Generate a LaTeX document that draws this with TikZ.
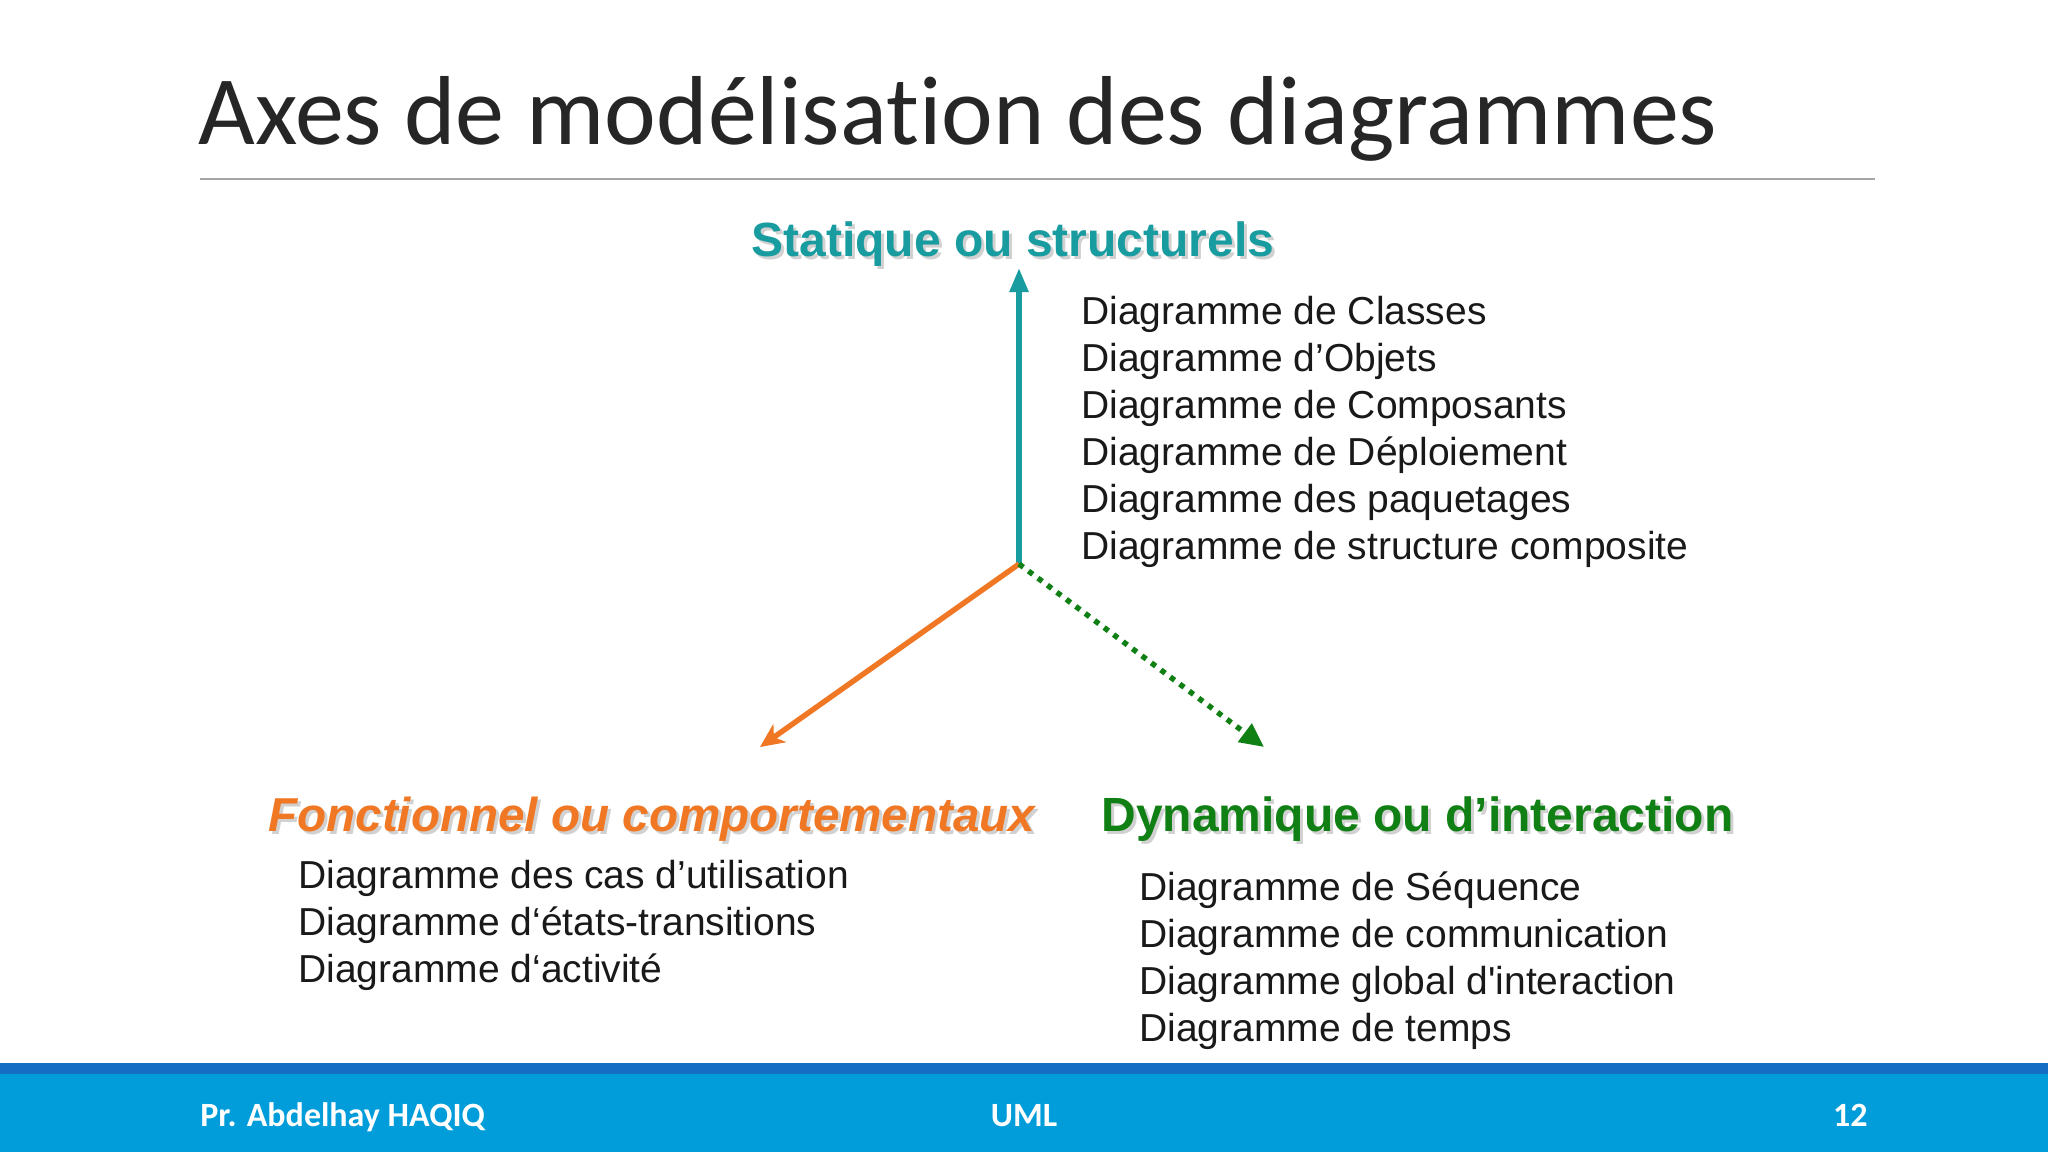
\documentclass[tikz,border=0pt]{standalone}
\usepackage{fontspec}
\setmainfont{Liberation Sans}
\newfontfamily\titlefont[Ligatures=NoCommon]{Carlito}
\usetikzlibrary{arrows.meta}
\definecolor{tealc}{RGB}{24,156,160}
\definecolor{orangec}{RGB}{240,120,36}
\definecolor{greenc}{RGB}{16,128,20}
\definecolor{footdark}{RGB}{22,110,196}
\definecolor{footlight}{RGB}{0,157,218}
\definecolor{rulegray}{RGB}{166,166,166}
\tikzset{
  listtxt/.style={anchor=base west, inner sep=0pt, font=\fontsize{19.5}{23}\selectfont, text=black!90},
  headtxt/.style={inner sep=0pt, font=\fontsize{24}{28}\selectfont\bfseries},
  shadowtxt/.style={headtxt, text=black!18},
  foottxt/.style={inner sep=0pt, anchor=base, text=white, font=\titlefont\bfseries\fontsize{17}{20}\selectfont},
  axisline/.style={line width=2.7pt}
}
\begin{document}
\begin{tikzpicture}[x=0.5pt,y=-0.5pt]
\useasboundingbox (0,0) rectangle (2048,1152);
\fill[white] (0,0) rectangle (2048,1152);

% title
\node[anchor=base west, inner sep=0pt, font=\titlefont\fontsize{49}{58}\selectfont, text=black!85] (title) at (198,144) {Axes de modélisation des diagrammes};
\draw[rulegray, line width=1pt] (200,179) -- (1875,179);

% axes
\coordinate (o) at (1019,564);
\coordinate (ttip) at (1019,268);
\coordinate (otip) at (760,747);
\coordinate (gtip) at (1264,747);
\draw[axisline, tealc, -{Triangle[length=12pt,width=9pt]}] (o) -- (ttip);
\draw[axisline, orangec, -{Stealth[length=12pt,width=11pt,inset=3.5pt]}] (o) -- (otip);
\draw[axisline, greenc, dash pattern=on 2.7pt off 3.2pt, -{Triangle[length=12pt,width=11pt]}] (o) -- (gtip);

% headings
\node[shadowtxt, anchor=base] at (1016,259) {Statique ou structurels};
\node[headtxt, anchor=base, text=tealc] (hstat) at (1013,256) {Statique ou structurels};
\node[shadowtxt, anchor=base west, font=\fontsize{23.8}{28}\selectfont\bfseries\itshape] at (271,834) {Fonctionnel ou comportementaux};
\node[headtxt, anchor=base west, text=orangec, font=\fontsize{23.8}{28}\selectfont\bfseries\itshape] (hfonc) at (268,831) {Fonctionnel ou comportementaux};
\node[shadowtxt, anchor=base west] at (1104,834) {Dynamique ou d’interaction};
\node[headtxt, anchor=base west, text=greenc] (hdyn) at (1101,831) {Dynamique ou d’interaction};

% static list
\node[listtxt] (s1) at (1081,324) {Diagramme de Classes};
\node[listtxt] (s2) at (1081,371) {Diagramme d’Objets};
\node[listtxt] (s3) at (1081,418) {Diagramme de Composants};
\node[listtxt] (s4) at (1081,465) {Diagramme de Déploiement};
\node[listtxt] (s5) at (1081,512) {Diagramme des paquetages};
\node[listtxt] (s6) at (1081,559) {Diagramme de structure composite};

% functional list
\node[listtxt] (f1) at (298,888) {Diagramme des cas d’utilisation};
\node[listtxt] (f2) at (298,935) {Diagramme d‘états-transitions};
\node[listtxt] (f3) at (298,982) {Diagramme d‘activité};

% dynamic list
\node[listtxt] (d1) at (1139,900) {Diagramme de Séquence};
\node[listtxt] (d2) at (1139,947) {Diagramme de communication};
\node[listtxt] (d3) at (1139,994) {Diagramme global d\textquotesingle interaction};
\node[listtxt] (d4) at (1139,1041) {Diagramme de temps};

% footer
\fill[footdark] (0,1063) rectangle (2048,1074);
\fill[footlight] (0,1074) rectangle (2048,1152);
\node[foottxt, anchor=base west] (author) at (200,1126) {Pr. Abdelhay HAQIQ};
\node[foottxt] (course) at (1024,1126) {UML};
\node[foottxt, anchor=base east] (page) at (1868,1126) {12};
\end{tikzpicture}
\end{document}
